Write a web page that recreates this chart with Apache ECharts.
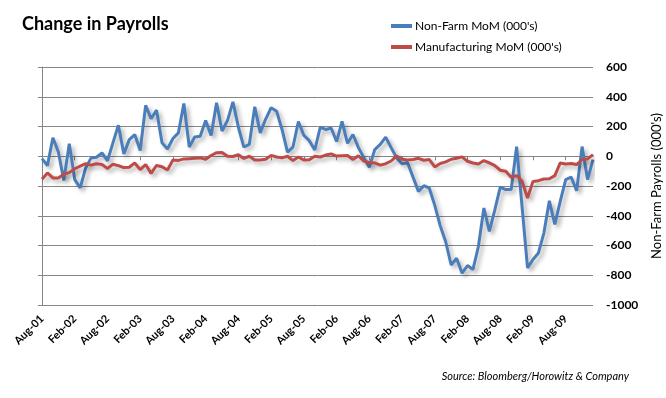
<!DOCTYPE html>
<html>
<head>
<meta charset="utf-8">
<script src="https://cdn.jsdelivr.net/npm/echarts@6/dist/echarts.min.js"></script>
<style>
  html, body { margin: 0; padding: 0; background: #fff; }
  #chart { width: 666px; height: 398px; }
</style>
</head>
<body>
<div id="chart"></div>
<script>
// 月份 Aug-01 .. Jan-10
const months = [
  'Aug-01','Sep-01','Oct-01','Nov-01','Dec-01',
  'Jan-02','Feb-02','Mar-02','Apr-02','May-02','Jun-02','Jul-02','Aug-02','Sep-02','Oct-02','Nov-02','Dec-02',
  'Jan-03','Feb-03','Mar-03','Apr-03','May-03','Jun-03','Jul-03','Aug-03','Sep-03','Oct-03','Nov-03','Dec-03',
  'Jan-04','Feb-04','Mar-04','Apr-04','May-04','Jun-04','Jul-04','Aug-04','Sep-04','Oct-04','Nov-04','Dec-04',
  'Jan-05','Feb-05','Mar-05','Apr-05','May-05','Jun-05','Jul-05','Aug-05','Sep-05','Oct-05','Nov-05','Dec-05',
  'Jan-06','Feb-06','Mar-06','Apr-06','May-06','Jun-06','Jul-06','Aug-06','Sep-06','Oct-06','Nov-06','Dec-06',
  'Jan-07','Feb-07','Mar-07','Apr-07','May-07','Jun-07','Jul-07','Aug-07','Sep-07','Oct-07','Nov-07','Dec-07',
  'Jan-08','Feb-08','Mar-08','Apr-08','May-08','Jun-08','Jul-08','Aug-08','Sep-08','Oct-08','Nov-08','Dec-08',
  'Jan-09','Feb-09','Mar-09','Apr-09','May-09','Jun-09','Jul-09','Aug-09','Sep-09','Oct-09','Nov-09','Dec-09',
  'Jan-10'
];

const nonFarm = [
  -16, -63, 124, 28, -162,
  85, -157, -213, -79, -11, -7, 22, -31, 90, 209, 16, 112,
  146, 38, 342, 252, 310, 90, 49, 119, 157, 355, 62, 129,
  135, 240, 140, 360, 170, 240, 366, 195, 62, 80, 333, 157,
  250, 326, 303, 180, 28, 62, 234, 140, 105, 42, 195, 180,
  190, 99, 235, 87, 146, 58, -10, -74, 45, 80, 128, 58,
  -10, -50, -42, -140, -236, -198, -215, -330, -468, -575, -731, -686,
  -786, -735, -761, -605, -348, -505, -360, -208, -224, -224, 65, -340,
  -750, -694, -650, -515, -300, -459, -302, -157, -140, -232, 65, -157,
  -22
];

const manufacturing = [
  -155, -112, -146, -146, -120,
  -110, -84, -67, -50, -60, -50, -56, -82, -54, -63, -76, -74,
  -45, -90, -56, -115, -62, -70, -92, -25, -28, -18, -16, -14,
  -11, -20, 5, 24, 25, 0, -2, 10, -15, 0, -25, -25,
  -20, 6, -5, -11, 0, -29, -5, -25, -24, 0, -5, 8,
  16, 1, 3, 5, -22, 3, -33, -42, -45, -60, -50, -32,
  2, -20, -25, -22, -14, -27, -22, -72, -49, -38, -20, -13,
  -4, -34, -45, -52, -29, -45, -63, -94, -101, -142, -130, -169,
  -281, -169, -164, -153, -151, -130, -45, -52, -49, -56, -22, -18,
  11
];

const yTicks = { min: -1000, max: 600, interval: 200 };

const chart = echarts.init(document.getElementById('chart'), null, { renderer: 'canvas' });

const gridColor = '#868686';
const font = 'Lato, "Open Sans", sans-serif';

const lineShadow = {
  shadowColor: 'rgba(0,0,0,0.3)',
  shadowBlur: 4,
  shadowOffsetX: 3,
  shadowOffsetY: 3
};

chart.setOption({
  animation: false,
  title: {
    text: 'Change in Payrolls',
    left: 17,
    top: 10,
    textStyle: { fontFamily: font, fontWeight: 'bold', fontSize: 18, color: '#000' }
  },
  legend: {
    orient: 'vertical',
    left: 386,
    top: 15,
    itemWidth: 21,
    itemHeight: 4,
    itemGap: 9,
    icon: 'rect',
    textStyle: { fontFamily: font, fontSize: 12, color: '#000', padding: [0, 0, 0, -2] },
    data: ['Non-Farm MoM (000\'s)', 'Manufacturing MoM (000\'s)']
  },
  grid: { left: 42, right: 73, top: 67, bottom: 93, outerBoundsMode: 'none', containLabel: false },
  xAxis: [
    {
      // 底部的日期标签
      type: 'category',
      data: months,
      position: 'bottom',
      boundaryGap: false,
      axisLine: { show: false, onZero: false },
      axisTick: { show: false },
      axisLabel: {
        interval: 5,
        rotate: 45,
        margin: 12,
        fontFamily: font,
        fontWeight: 'bold',
        fontSize: 11,
        color: '#000'
      },
      splitLine: { show: false }
    },
    {
      // 零线 + 刻度
      type: 'category',
      data: months,
      position: 'bottom',
      boundaryGap: false,
      axisLine: { show: true, onZero: true, onZeroAxisIndex: 0, lineStyle: { color: gridColor, width: 1 } },
      axisTick: { show: true, interval: 5, length: 4, lineStyle: { color: gridColor } },
      axisLabel: { show: false },
      splitLine: { show: false }
    }
  ],
  yAxis: [
    {
      type: 'value',
      position: 'right',
      min: yTicks.min,
      max: yTicks.max,
      interval: yTicks.interval,
      name: 'Non-Farm Payrolls (000\'s)',
      nameLocation: 'middle',
      nameRotate: 90,
      nameGap: 57,
      nameTextStyle: { fontFamily: font, fontSize: 13, color: '#000' },
      axisLine: { show: false },
      axisTick: { show: false },
      axisLabel: {
        margin: 13,
        align: 'left',
        formatter: v => String(v),
        fontFamily: font,
        fontWeight: 'bold',
        fontSize: 12,
        color: '#000'
      },
      splitLine: { show: true, lineStyle: { color: gridColor, width: 1 } }
    },
    {
      // 左侧竖线
      type: 'value',
      position: 'left',
      min: yTicks.min,
      max: yTicks.max,
      interval: yTicks.interval,
      axisLine: { show: true, lineStyle: { color: gridColor, width: 1 } },
      axisTick: { show: true, length: 4, lineStyle: { color: gridColor } },
      axisLabel: { show: false },
      splitLine: { show: false }
    }
  ],
  series: [
    {
      name: 'Non-Farm MoM (000\'s)',
      type: 'line',
      data: nonFarm,
      xAxisIndex: 0,
      yAxisIndex: 0,
      showSymbol: false,
      color: '#4a7ebb',
      lineStyle: Object.assign({ color: '#4a7ebb', width: 3 }, lineShadow),
      z: 3
    },
    {
      name: 'Manufacturing MoM (000\'s)',
      type: 'line',
      data: manufacturing,
      xAxisIndex: 0,
      yAxisIndex: 0,
      showSymbol: false,
      color: '#be4b48',
      lineStyle: Object.assign({ color: '#be4b48', width: 3 }, lineShadow),
      z: 4
    }
  ],
  graphic: [
    {
      type: 'text',
      right: 37,
      top: 371,
      style: {
        text: 'Source: Bloomberg/Horowitz & Company',
        fontFamily: font,
        fontStyle: 'italic',
        fontSize: 11,
        fill: '#000'
      }
    }
  ]
});
</script>
</body>
</html>
